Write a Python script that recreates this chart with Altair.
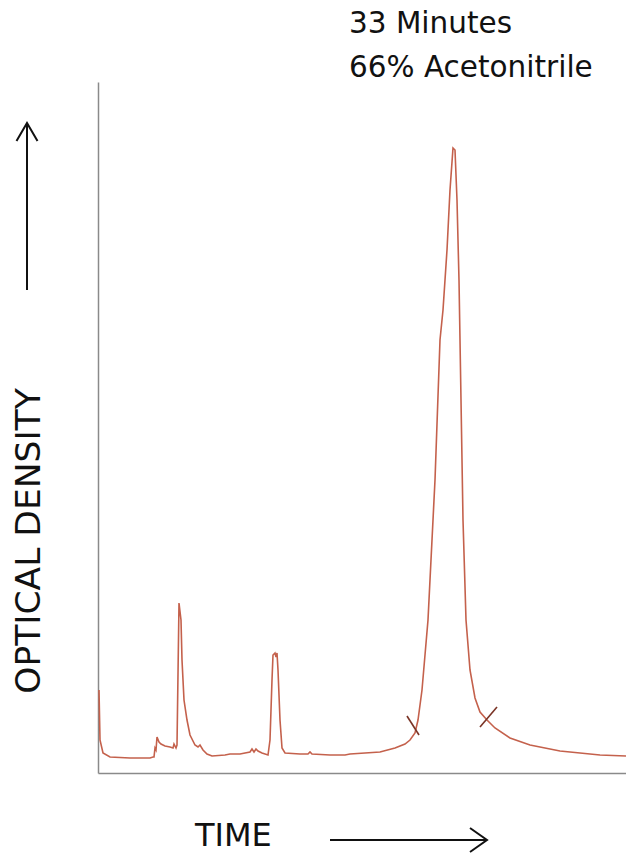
import altair as alt
import pandas as pd

# Chromatogram trace (time in px-units from axis origin, optical density in px-units above axis)
trace_px_x = [99, 100, 103, 110, 130, 150, 153, 154, 155, 156, 157, 159, 161, 165, 170, 173, 174, 176, 177,
              179, 181, 182, 184, 187, 190, 195, 198, 200, 203, 207, 212, 225, 230, 240, 250, 252, 254, 256,
              258, 262, 268, 270, 272, 273, 275, 276, 277, 278, 280, 282, 285, 300, 308, 310, 312, 330, 345,
              350, 380, 395, 405, 410, 415, 418, 422, 428, 435, 440, 443, 447, 450, 453, 455, 457, 459, 461,
              463, 466, 470, 475, 480, 487, 495, 510, 530, 560, 600, 626]
trace_px_y = [690, 740, 753, 757, 758, 758, 757, 757, 748, 750, 737, 742, 744, 746, 747, 748, 744, 748, 745,
              603, 620, 660, 700, 720, 735, 745, 747, 745, 750, 754, 756, 755, 754, 754, 752, 749, 752, 749,
              751, 753, 755, 740, 680, 655, 653, 657, 653, 670, 720, 748, 753, 754, 754, 752, 754, 755, 755,
              754, 752, 748, 744, 740, 733, 720, 690, 620, 480, 340, 310, 250, 190, 148, 150, 200, 280, 400,
              520, 620, 670, 698, 712, 720, 728, 738, 745, 751, 755, 756]

AXIS_X0 = 98
AXIS_Y0 = 773
time = [x - AXIS_X0 for x in trace_px_x]
density = [AXIS_Y0 - y for y in trace_px_y]

# integration cut marks on the main peak
cut_x1 = [407 - AXIS_X0, 480 - AXIS_X0]
cut_y1 = [AXIS_Y0 - 716, AXIS_Y0 - 727]
cut_x2 = [419 - AXIS_X0, 497 - AXIS_X0]
cut_y2 = [AXIS_Y0 - 735, AXIS_Y0 - 707]

W, H = 528, 691

df = pd.DataFrame({"t": time, "od": density})
cuts = pd.DataFrame({"x1": cut_x1, "y1": cut_y1, "x2": cut_x2, "y2": cut_y2})

xs = alt.Scale(domain=[0, W], nice=False, zero=False)
ys = alt.Scale(domain=[0, H], nice=False, zero=False)
ax = alt.Axis(labels=False, ticks=False, title=None, grid=False, domainColor="#8a8a8a", domainWidth=1.5)

line = alt.Chart(df).mark_line(color="#c4614c", strokeWidth=1.6).encode(
    x=alt.X("t:Q", scale=xs, axis=ax),
    y=alt.Y("od:Q", scale=ys, axis=ax),
)

cutmarks = alt.Chart(cuts).mark_rule(color="#7a3426", strokeWidth=1.6).encode(
    x=alt.X("x1:Q", scale=xs), y=alt.Y("y1:Q", scale=ys),
    x2="x2:Q", y2="y2:Q",
)

FONT = "DejaVu Sans"
txt_top1 = alt.Chart(pd.DataFrame({"s": ["33 Minutes"]})).mark_text(
    font=FONT, fontSize=29.5, align="left", baseline="alphabetic", color="#111"
).encode(x=alt.value(251), y=alt.value(33 - 82), text="s:N")
txt_top2 = alt.Chart(pd.DataFrame({"s": ["66% Acetonitrile"]})).mark_text(
    font=FONT, fontSize=29.5, align="left", baseline="alphabetic", color="#111"
).encode(x=alt.value(251), y=alt.value(77 - 82), text="s:N")

ytitle = alt.Chart(pd.DataFrame({"s": ["OPTICAL DENSITY"]})).mark_text(
    font=FONT, fontSize=34.5, align="center", baseline="alphabetic", angle=270, color="#111"
).encode(x=alt.value(40 - 98), y=alt.value(541 - 82), text="s:N")

xtitle = alt.Chart(pd.DataFrame({"s": ["TIME"]})).mark_text(
    font=FONT, fontSize=32, align="left", baseline="alphabetic", color="#111"
).encode(x=alt.value(195 - 98), y=alt.value(846 - 82), text="s:N")

dummy = pd.DataFrame({"a": [0]})
v_arrow = alt.Chart(dummy).mark_rule(color="#111", strokeWidth=2).encode(
    x=alt.value(27 - 98), y=alt.value(290 - 82), y2=alt.value(124 - 82))
v_head = alt.Chart(dummy).mark_point(
    shape="M -1.05 1.8 L 0 0 L 1.05 1.8", filled=False, color="#111", strokeWidth=2, size=400, opacity=1
).encode(x=alt.value(27 - 98), y=alt.value(123 - 82))

h_arrow = alt.Chart(dummy).mark_rule(color="#111", strokeWidth=2).encode(
    x=alt.value(330 - 98), x2=alt.value(486 - 98), y=alt.value(840 - 82))
h_head = alt.Chart(dummy).mark_point(
    shape="M -1.7 -1.2 L 0 0 L -1.7 1.2", filled=False, color="#111", strokeWidth=2, size=400, opacity=1
).encode(x=alt.value(487 - 98), y=alt.value(840 - 82))

chart = alt.layer(
    line, cutmarks, txt_top1, txt_top2, ytitle, xtitle, v_arrow, v_head, h_arrow, h_head
).properties(
    width=W, height=H,
    padding={"left": AXIS_X0, "top": 82, "right": 0, "bottom": 80},
    autosize=alt.AutoSizeParams(type="none"),
    background="white",
).configure_view(stroke=None)

chart.save("out.html", embed_options={"renderer": "svg", "actions": False})
